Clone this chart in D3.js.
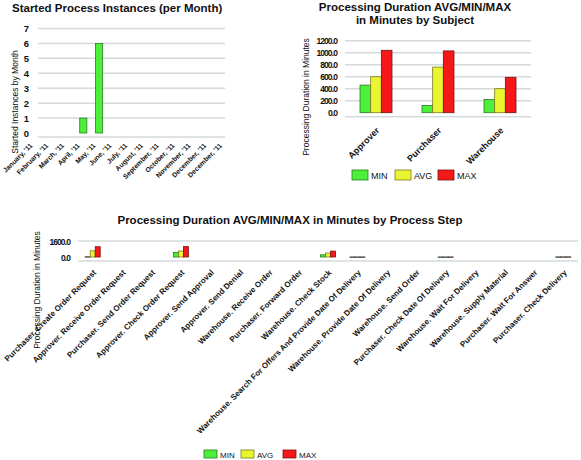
<!DOCTYPE html>
<html><head><meta charset="utf-8">
<script src="https://cdn.jsdelivr.net/npm/d3@7"></script>
<style>
body{margin:0;background:#fff}
svg text{font-family:"Liberation Sans",Arial,sans-serif;fill:#111}
</style>
</head><body>
<svg id="c" width="581" height="460"></svg>
<script>
// ---------- data ----------
const months = ["January, '11","February, '11","March, '11","April, '11","May, '11","June, '11","July, '11","August, '11","September, '11","October, '11","November, '11","December, '11","December, '11"];
const startedInstances = [0,0,0,1,6,0,0,0,0,0,0,0,0];
const monthTicks = [0,1,2,3,4,5,6,7];

const subjects = ["Approver","Purchaser","Warehouse"];
const subjMin = [460,120,220];
const subjAvg = [600,760,400];
const subjMax = [1040,1030,590];
const subjTicks = [0,200,400,600,800,1000,1200];

const steps = ["Purchaser. Create Order Request","Approver. Receive Order Request","Purchaser. Send Order Request","Approver. Check Order Request","Approver. Send Approval","Approver. Send Denial","Warehouse. Receive Order","Purchaser. Forward Order","Warehouse. Check Stock","Warehouse. Search For Offers And Provide Date Of Delivery","Warehouse. Provide Date Of Delivery","Warehouse. Send Order","Purchaser. Check Date Of Delivery","Warehouse. Wait For Delivery","Warehouse. Supply Material","Purchaser. Wait For Answer","Purchaser. Check Delivery"];
const stepMin = [20,null,null,460,null,null,null,null,220,2,null,null,2,null,null,null,8];
const stepAvg = [620,null,null,600,null,null,null,null,400,3,null,null,3,null,null,null,10];
const stepMax = [1030,null,null,1040,null,null,null,null,590,4,null,null,4,null,null,null,12];
const stepTicks = [0,1600];

const seriesNames = ["MIN","AVG","MAX"];
const seriesColors = ["#4cf03a","#eaf532","#f51818"];
const seriesStroke = ["#2a7a22","#7a7a20","#7a1010"];

const svg = d3.select("#c");
const gridColor = "#d3dada";

// ---------- chart 1 ----------
(function(){
  const g = svg.append("g");
  const x = d3.scaleBand().domain(d3.range(months.length)).range([28,233.4]).paddingInner(0.55).paddingOuter(0.275);
  const y = d3.scaleLinear().domain([0,7]).range([133,28.5]);
  g.append("text").attr("x",12).attr("y",12).attr("font-size",11.5).attr("font-weight","bold").text("Started Process Instances (per Month)");
  g.selectAll("line.grid").data(monthTicks.filter(d=>d>0)).join("line")
    .attr("x1",38).attr("x2",225).attr("y1",d=>y(d)).attr("y2",d=>y(d))
    .attr("stroke",gridColor).attr("stroke-width",1.5);
  g.append("line").attr("x1",38).attr("x2",225).attr("y1",y(0)+4).attr("y2",y(0)+4).attr("stroke",gridColor).attr("stroke-width",1.5);
  g.selectAll("text.yt").data(monthTicks).join("text")
    .attr("x",29).attr("y",d=>y(d)+3.5).attr("text-anchor","end").attr("font-size",9.5).attr("font-weight","bold").text(d=>d);
  g.selectAll("rect.bar").data(startedInstances.map((v,i)=>({v,i})).filter(d=>d.v>0)).join("rect")
    .attr("x",d=>x(d.i)).attr("width",x.bandwidth()).attr("y",d=>y(d.v)).attr("height",d=>y(0)-y(d.v))
    .attr("fill",seriesColors[0]).attr("stroke",seriesStroke[0]).attr("stroke-width",0.8);
  g.selectAll("text.xl").data(months).join("text")
    .attr("transform",(d,i)=>`translate(${x(i)+0.5},${146}) rotate(-45)`)
    .attr("text-anchor","end").attr("font-size",6.8).attr("font-weight","bold").text(d=>d);
  g.append("text").attr("transform","translate(18,102) rotate(-90)").attr("text-anchor","middle").attr("font-size",8.5).text("Started Instances by Month");
})();

// ---------- chart 2 ----------
(function(){
  const g = svg.append("g");
  const x = d3.scaleBand().domain(d3.range(subjects.length)).range([345,531]);
  const xs = d3.scaleBand().domain(d3.range(3)).range([-16,16]);
  const y = d3.scaleLinear().domain([0,1200]).range([112.7,40.7]);
  const t = g.append("text").attr("x",415).attr("y",11).attr("text-anchor","middle").attr("font-size",11.5).attr("font-weight","bold");
  t.append("tspan").attr("x",415).attr("dy",0).text("Processing Duration AVG/MIN/MAX");
  t.append("tspan").attr("x",415).attr("dy",12.5).text("in Minutes by Subject");
  g.selectAll("line.grid").data(subjTicks.filter(d=>d>0)).join("line")
    .attr("x1",345).attr("x2",531).attr("y1",d=>y(d)).attr("y2",d=>y(d)).attr("stroke",gridColor).attr("stroke-width",1.5);
  g.append("line").attr("x1",345).attr("x2",531).attr("y1",y(0)+4).attr("y2",y(0)+4).attr("stroke",gridColor).attr("stroke-width",1.5);
  g.selectAll("text.yt").data(subjTicks).join("text")
    .attr("x",337).attr("y",d=>y(d)+3.5).attr("text-anchor","end").attr("font-size",8.5).attr("letter-spacing",-0.9).attr("font-weight","bold").text(d=>d.toFixed(1));
  const vals = [subjMin,subjAvg,subjMax];
  subjects.forEach((s,i)=>{
    vals.forEach((arr,k)=>{
      g.append("rect").attr("x",x(i)+x.bandwidth()/2+xs(k)).attr("width",xs.bandwidth())
        .attr("y",y(arr[i])).attr("height",y(0)-y(arr[i]))
        .attr("fill",seriesColors[k]).attr("stroke",seriesStroke[k]).attr("stroke-width",0.8);
    });
  });
  g.selectAll("text.xl").data(subjects).join("text")
    .attr("transform",(d,i)=>`translate(${x(i)+x.bandwidth()/2+4},131) rotate(-45)`)
    .attr("text-anchor","end").attr("font-size",9).attr("font-weight","bold").text(d=>d);
  g.append("text").attr("transform","translate(309,97) rotate(-90)").attr("text-anchor","middle").attr("font-size",8.5).text("Processing Duration in Minutes");
  const lg = g.append("g");
  const lx = [352,395,438];
  seriesNames.forEach((n,k)=>{
    lg.append("rect").attr("x",lx[k]).attr("y",170).attr("width",16).attr("height",10).attr("fill",seriesColors[k]).attr("stroke",seriesStroke[k]).attr("stroke-width",0.8);
    lg.append("text").attr("x",lx[k]+19).attr("y",179).attr("font-size",9).text(n);
  });
})();

// ---------- chart 3 ----------
(function(){
  const g = svg.append("g");
  const x = d3.scaleBand().domain(d3.range(steps.length)).range([78,578]);
  const xs = d3.scaleBand().domain(d3.range(3)).range([-7.5,7.5]);
  const y = d3.scaleLinear().domain([0,1600]).range([257,241]);
  g.append("text").attr("x",290).attr("y",224).attr("text-anchor","middle").attr("font-size",11.5).attr("font-weight","bold").text("Processing Duration AVG/MIN/MAX in Minutes by Process Step");
  g.append("line").attr("x1",78).attr("x2",578).attr("y1",y(1600)).attr("y2",y(1600)).attr("stroke",gridColor).attr("stroke-width",1.5);
  g.append("line").attr("x1",78).attr("x2",578).attr("y1",y(0)+4).attr("y2",y(0)+4).attr("stroke",gridColor).attr("stroke-width",1.5);
  g.selectAll("text.yt").data(stepTicks).join("text")
    .attr("x",70).attr("y",d=>y(d)+3.5).attr("text-anchor","end").attr("font-size",8.5).attr("letter-spacing",-0.9).attr("font-weight","bold").text(d=>d.toFixed(1));
  const vals = [stepMin,stepAvg,stepMax];
  steps.forEach((s,i)=>{
    vals.forEach((arr,k)=>{
      if(arr[i]==null) return;
      g.append("rect").attr("x",x(i)+x.bandwidth()/2+xs(k)).attr("width",xs.bandwidth())
        .attr("y",y(arr[i])).attr("height",Math.max(0.3,y(0)-y(arr[i])))
        .attr("fill",seriesColors[k]).attr("stroke",arr[i]<50?"#222":seriesStroke[k]).attr("stroke-width",0.8);
    });
  });
  g.selectAll("text.xl").data(steps).join("text")
    .attr("transform",(d,i)=>`translate(${x(i)+x.bandwidth()/2+4},273) rotate(-45)`)
    .attr("text-anchor","end").attr("font-size",8).attr("font-weight","bold").text(d=>d);
  g.append("text").attr("transform","translate(40,290) rotate(-90)").attr("text-anchor","middle").attr("font-size",8.5).text("Processing Duration in Minutes");
  const lx = [204,241,283];
  seriesNames.forEach((n,k)=>{
    g.append("rect").attr("x",lx[k]).attr("y",450).attr("width",13).attr("height",8).attr("fill",seriesColors[k]).attr("stroke",seriesStroke[k]).attr("stroke-width",0.8);
    g.append("text").attr("x",lx[k]+16).attr("y",458).attr("font-size",8).text(n);
  });
})();
</script>
</body></html>
